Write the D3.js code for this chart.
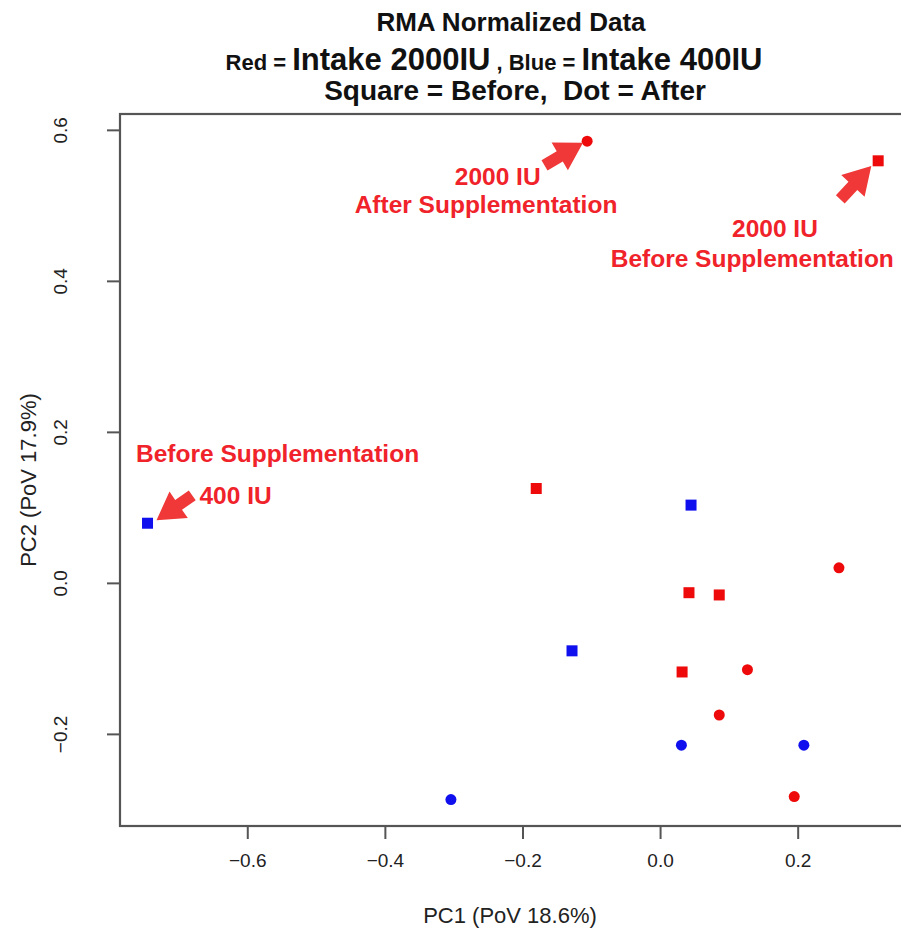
<!DOCTYPE html>
<html>
<head>
<meta charset="utf-8">
<script src="https://cdn.jsdelivr.net/npm/d3@7"></script>
<style>
  body { margin: 0; background: #fff; }
  svg { font-family: "Liberation Sans", Arial, sans-serif; }
</style>
</head>
<body>
<div id="chart"></div>
<script>
// data
var xTicks = [-0.6, -0.4, -0.2, 0.0, 0.2];
var yTicks = [-0.2, 0.0, 0.2, 0.4, 0.6];

// red = 2000 IU, blue = 400 IU ; square = before, dot = after
var redBefore  = [[0.317, 0.559], [-0.180, 0.125], [0.042, -0.013], [0.086, -0.016], [0.032, -0.118]];
var redAfter   = [[-0.106, 0.585], [0.260, 0.020], [0.127, -0.115], [0.086, -0.175], [0.195, -0.283]];
var blueBefore = [[-0.745, 0.079], [0.045, 0.103], [-0.128, -0.090]];
var blueAfter  = [[0.031, -0.215], [0.209, -0.215], [-0.304, -0.287]];

var notes = [
  {text: "2000 IU", x: -0.236, y: 0.527},
  {text: "After Supplementation", x: -0.253, y: 0.490},
  {text: "2000 IU", x: 0.167, y: 0.458},
  {text: "Before Supplementation", x: 0.134, y: 0.419},
  {text: "Before Supplementation", x: -0.556, y: 0.160},
  {text: "400 IU", x: -0.617, y: 0.105}
];
var arrows = [
  {from: [-0.168, 0.553], to: [-0.112, 0.583]},
  {from: [0.262, 0.508], to: [0.307, 0.552]},
  {from: [-0.680, 0.116], to: [-0.732, 0.083]}
];

var width = 901, height = 940;
var mLeft = 120, mRight = 905, mTop = 114, mBottom = 826;

var svg = d3.select("#chart").append("svg")
    .attr("width", width)
    .attr("height", height);

var x = d3.scaleLinear().domain([-0.785, 0.356]).range([mLeft, mRight]);
var y = d3.scaleLinear().domain([-0.322, 0.621]).range([mBottom, mTop]);

// titles
svg.append("text")
    .attr("x", 511).attr("y", 31)
    .attr("text-anchor", "middle")
    .attr("font-weight", "bold").attr("font-size", 26)
    .attr("fill", "#111")
    .text("RMA Normalized Data");

var t2 = svg.append("text")
    .attr("x", 494).attr("y", 70)
    .attr("text-anchor", "middle")
    .attr("fill", "#111");
t2.append("tspan").attr("font-weight", "bold").attr("font-size", 22).text("Red = ");
t2.append("tspan").attr("font-weight", "bold").attr("font-size", 31).text("Intake 2000IU");
t2.append("tspan").attr("font-weight", "bold").attr("font-size", 22).text(" , Blue = ");
t2.append("tspan").attr("font-weight", "bold").attr("font-size", 31).text("Intake 400IU");

svg.append("text")
    .attr("x", 515).attr("y", 100)
    .attr("text-anchor", "middle")
    .attr("font-weight", "bold").attr("font-size", 28)
    .attr("fill", "#111")
    .attr("xml:space", "preserve")
    .text("Square = Before,  Dot = After");

// frame
svg.append("rect")
    .attr("x", mLeft).attr("y", mTop)
    .attr("width", mRight - mLeft).attr("height", mBottom - mTop)
    .attr("fill", "none")
    .attr("stroke", "#555")
    .attr("stroke-width", 2.2);

// axes
var xAxis = svg.append("g")
    .attr("transform", "translate(0," + mBottom + ")")
    .call(d3.axisBottom(x).tickValues(xTicks).tickSize(13).tickPadding(8)
      .tickFormat(d3.format(".1f")));
var yAxis = svg.append("g")
    .attr("transform", "translate(" + mLeft + ",0)")
    .call(d3.axisLeft(y).tickValues(yTicks).tickSize(13).tickPadding(8)
      .tickFormat(d3.format(".1f")));

[xAxis, yAxis].forEach(function(g){
    g.select(".domain").remove();
    g.selectAll(".tick line").attr("stroke", "#555").attr("stroke-width", 2);
    g.selectAll(".tick text")
      .attr("font-family", "Liberation Sans, Arial, sans-serif")
      .attr("font-size", 19).attr("fill", "#222");
});
xAxis.selectAll(".tick text").attr("dy", "1.05em");
yAxis.selectAll(".tick text")
    .attr("text-anchor", "middle")
    .attr("transform", "translate(-60,0) rotate(-90)")
    .attr("x", 0).attr("y", 0).attr("dy", "0.35em");

// axis titles
svg.append("text")
    .attr("x", 510).attr("y", 923)
    .attr("text-anchor", "middle")
    .attr("font-size", 22).attr("fill", "#222")
    .text("PC1 (PoV 18.6%)");
svg.append("text")
    .attr("transform", "translate(36,480) rotate(-90)")
    .attr("text-anchor", "middle")
    .attr("font-size", 22).attr("fill", "#222")
    .text("PC2 (PoV 17.9%)");

// points
var sq = 11, rad = 5.5;
function squares(data, color){
    svg.append("g").selectAll("rect").data(data).enter().append("rect")
      .attr("x", function(d){ return x(d[0]) - sq / 2; })
      .attr("y", function(d){ return y(d[1]) - sq / 2; })
      .attr("width", sq).attr("height", sq)
      .attr("fill", color);
}
function dots(data, color){
    svg.append("g").selectAll("circle").data(data).enter().append("circle")
      .attr("cx", function(d){ return x(d[0]); })
      .attr("cy", function(d){ return y(d[1]); })
      .attr("r", rad)
      .attr("fill", color);
}
squares(redBefore, "#ee0a0a");
dots(redAfter, "#ee0a0a");
squares(blueBefore, "#1010ee");
dots(blueAfter, "#1010ee");

// arrows
function arrowPath(a){
    var x0 = x(a.from[0]), y0 = y(a.from[1]);
    var x1 = x(a.to[0]), y1 = y(a.to[1]);
    var dx = x1 - x0, dy = y1 - y0, len = Math.sqrt(dx * dx + dy * dy);
    var ux = dx / len, uy = dy / len, nx = -uy, ny = ux;
    var hl = 27, hw = 16, sw = 6;
    var bx = x1 - ux * hl, by = y1 - uy * hl;
    var p = [
      [x0 + nx * sw, y0 + ny * sw],
      [bx + nx * sw, by + ny * sw],
      [bx + nx * hw, by + ny * hw],
      [x1, y1],
      [bx - nx * hw, by - ny * hw],
      [bx - nx * sw, by - ny * sw],
      [x0 - nx * sw, y0 - ny * sw]
    ];
    return "M" + p.map(function(q){ return q[0].toFixed(1) + "," + q[1].toFixed(1); }).join("L") + "Z";
}
svg.append("g").selectAll("path").data(arrows).enter().append("path")
    .attr("d", arrowPath)
    .attr("fill", "#f03838");

// annotation text
svg.append("g").selectAll("text").data(notes).enter().append("text")
    .attr("x", function(d){ return x(d.x); })
    .attr("y", function(d){ return y(d.y); })
    .attr("text-anchor", "middle")
    .attr("font-weight", "bold").attr("font-size", 24.5)
    .attr("fill", "#f0222a")
    .text(function(d){ return d.text; });
</script>
</body>
</html>
